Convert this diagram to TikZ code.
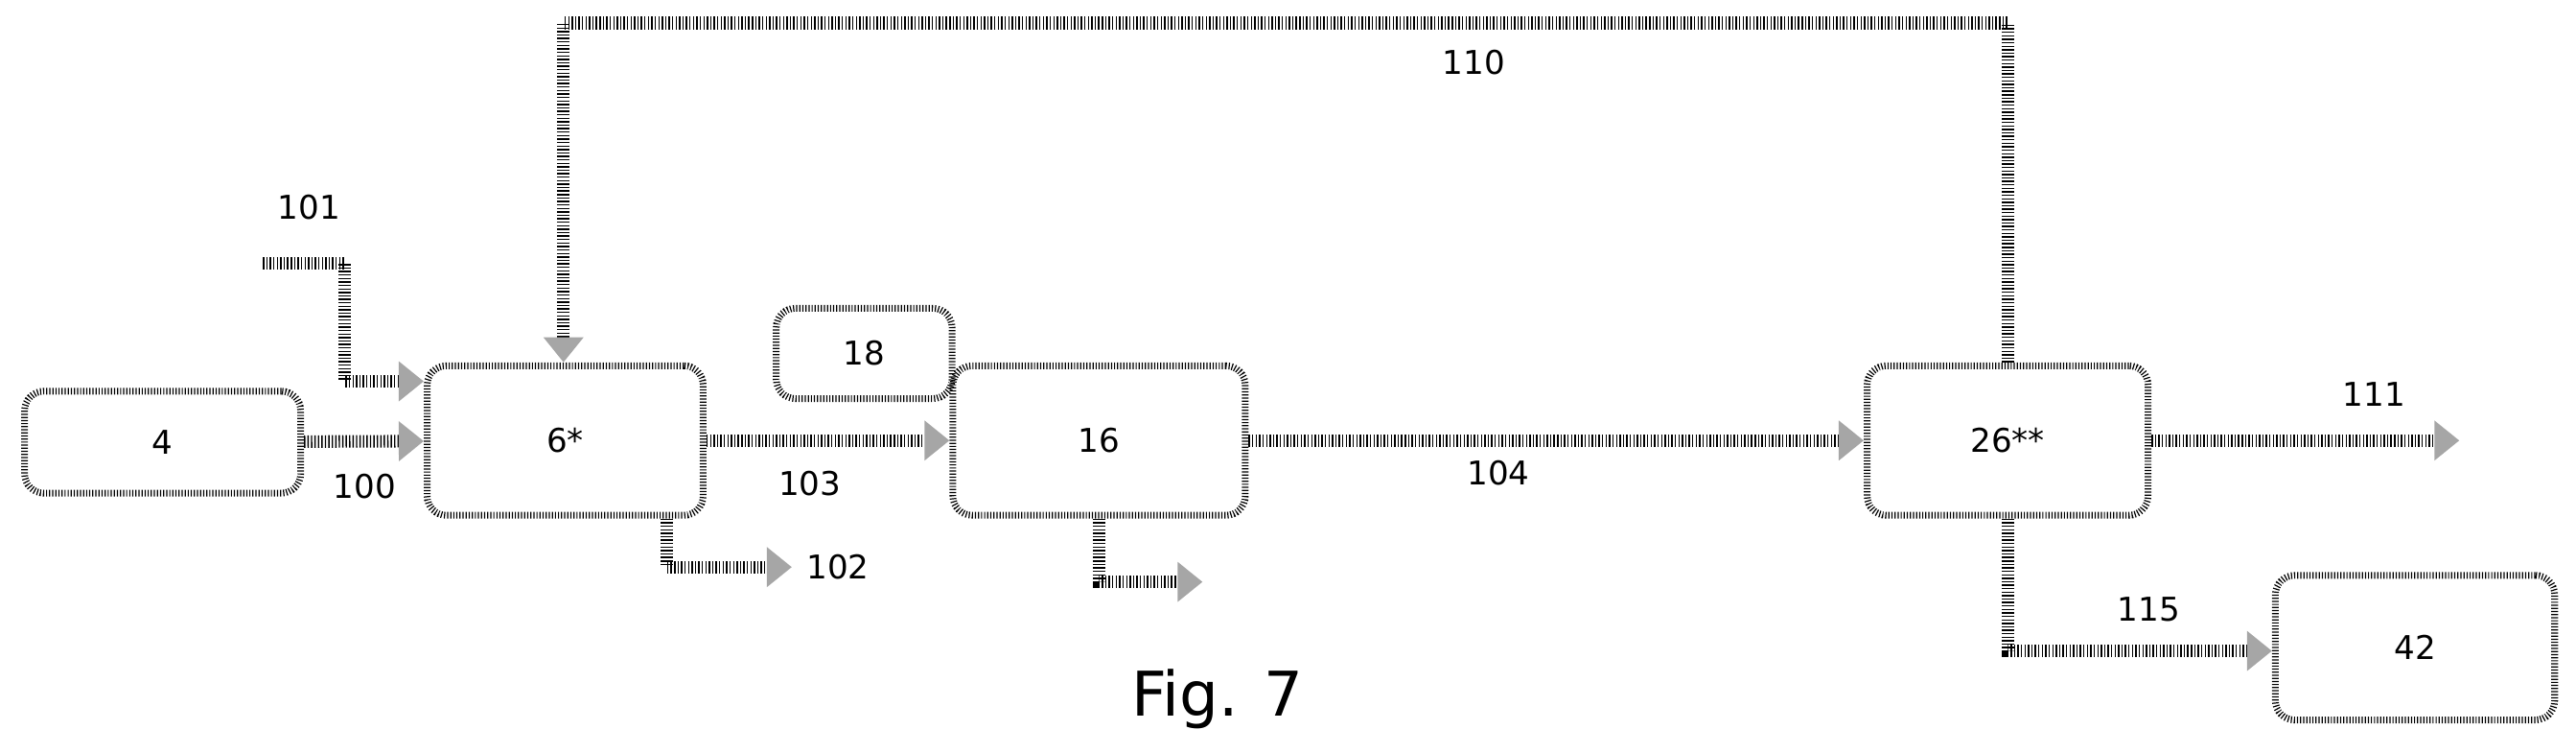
\documentclass[tikz,border=0pt]{standalone}
\usepackage{fontspec}
\setmainfont{DejaVu Sans}
\usetikzlibrary{arrows.meta}
\tikzset{
  unit/.style={draw, rounded corners=10pt, line width=3.5pt, dash pattern=on 0.6pt off 1pt, font=\fontsize{17}{20}\selectfont, inner sep=0pt},
  flow/.style={line width=6.5pt, dash pattern=on 0.7pt off 1.1pt, -{Triangle[width=20pt,length=13pt,fill=gray!70,color=gray!70]}},
  feed/.style={line width=6.5pt, dash pattern=on 0.7pt off 1.1pt},
  lbl/.style={font=\fontsize{17}{20}\selectfont}
}
\begin{document}
\begin{tikzpicture}[x=0.03cm, y=-0.03cm]
            \useasboundingbox (0,0) rectangle (1568,458);
            \node[unit, minimum width=168*0.03cm, minimum height=62*0.03cm] at (99, 269) (u4) {4};
            \node[unit, minimum width=168*0.03cm, minimum height=91*0.03cm] at (344, 268) (u6) {6*};
            \node[unit, minimum width=107*0.03cm, minimum height=55*0.03cm] at (526, 215) (u18) {18};
            \node[unit, minimum width=178*0.03cm, minimum height=91*0.03cm] at (669, 268) (u16) {16};
            \node[unit, minimum width=171*0.03cm, minimum height=91*0.03cm] at (1222, 268) (u26) {26**};
            \node[unit, minimum width=170*0.03cm, minimum height=88*0.03cm] at (1470, 394) (u42) {42};

            \coordinate (s101) at (160, 160);
            \coordinate (e102) at (482, 345);
            \coordinate (e16) at (732, 354);
            \coordinate (e111) at (1497, 268);

            \draw [flow] (u4) -- (u6);
            \draw [flow] (s101) -| (210, 232) -- (u6.west |- 0,232);
            \draw [flow] (u26.north) |- (343, 14) -- (u6.north -| 343,0);
            \draw [flow] (u6) -- (u16);
            \draw [flow] (u6.south -| 406,0) |- (e102);
            \draw [flow] (u16.south) |- (e16);
            \draw [flow] (u16) -- (u26);
            \draw [flow] (u26) -- (e111);
            \draw [flow] (u26.south) |- (u42.west |- 0,396);

            \node[lbl] at (222, 296) (l100) {100};
            \node[lbl] at (188, 126) (l101) {101};
            \node[lbl] at (510, 345) (l102) {102};
            \node[lbl] at (493, 294) (l103) {103};
            \node[lbl] at (912, 288) (l104) {104};
            \node[lbl] at (897, 38) (l110) {110};
            \node[lbl] at (1445, 240) (l111) {111};
            \node[lbl] at (1308, 371) (l115) {115};
            \node[font=\fontsize{32}{36}\selectfont] at (741, 425) (fig) {Fig. 7};
        \end{tikzpicture}
\end{document}
